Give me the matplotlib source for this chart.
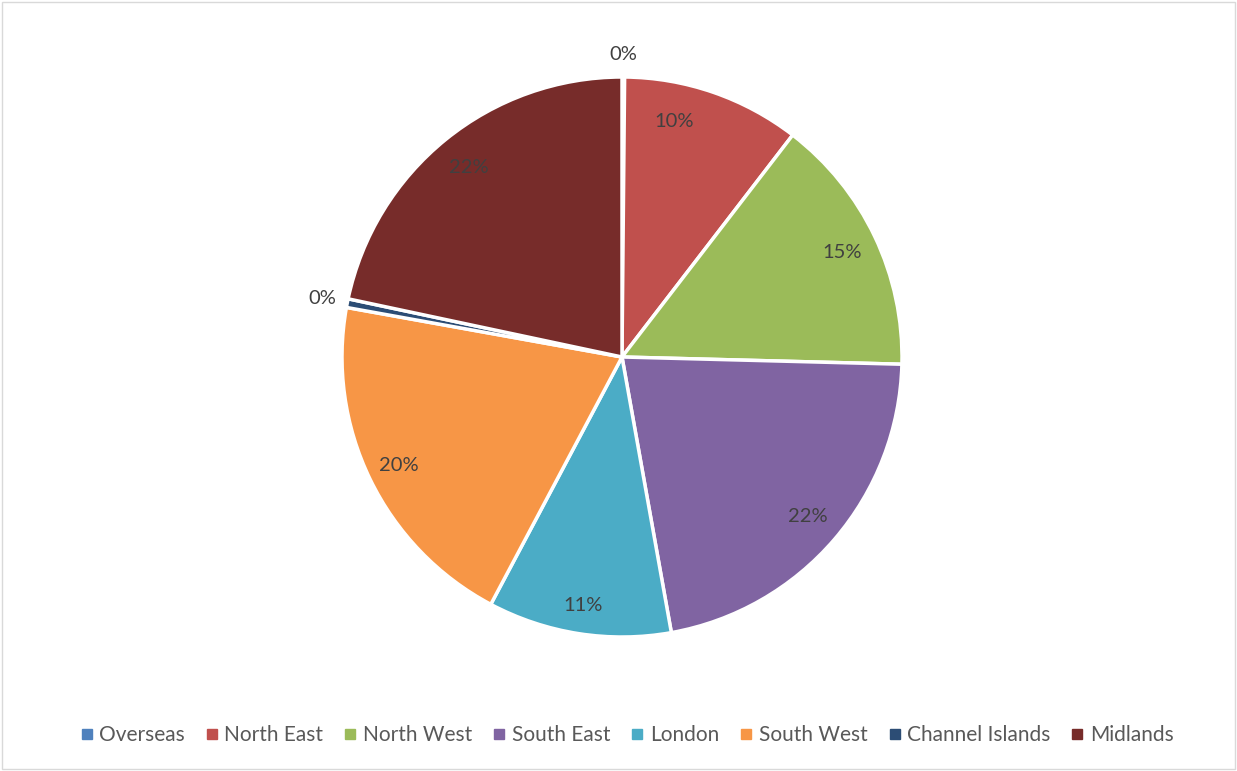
import matplotlib
matplotlib.use("Agg")
import matplotlib.pyplot as plt
from matplotlib.lines import Line2D
from matplotlib.patches import Rectangle
import numpy as np

categories = ["Overseas", "North East", "North West", "South East", "London",
              "South West", "Channel Islands", "Midlands"]
values = [0.15, 10.3, 15.0, 21.8, 10.6, 20.1, 0.5, 21.7]
pct_labels = ["0%", "10%", "15%", "22%", "11%", "20%", "0%", "22%"]
colors = ["#4F81BD", "#C0504D", "#9BBB59", "#8064A2", "#4BACC6", "#F79646",
          "#2C4D75", "#772C2A"]

plt.rcParams['font.family'] = ['Lato', 'DejaVu Sans']

W, H = 1237, 771
fig = plt.figure(figsize=(W / 100, H / 100), dpi=100)
fig.patches.append(Rectangle((0.002, 0.002), 0.996, 0.996, transform=fig.transFigure,
                             fill=False, edgecolor="#D9D9D9", linewidth=1))

cx, cy, r = 622, 357, 280
ax = fig.add_axes([(cx - r) / W, (H - cy - r) / H, 2 * r / W, 2 * r / H])
wedges, _ = ax.pie(values, colors=colors, startangle=90, counterclock=False,
                   wedgeprops=dict(edgecolor="white", linewidth=2.5))
ax.set_xlim(-1, 1)
ax.set_ylim(-1, 1)
ax.set_aspect("auto")

# label placement tweaks (best-fit style): angle shift in degrees, radial distance
shifts = [0, 6.5, 0, 0, 0, 0, 0, 0]
dists = [1.08, 0.86, 0.87, 0.875, 0.9, 0.885, 1.08, 0.87]
for w, lab, v, s, d in zip(wedges, pct_labels, values, shifts, dists):
    ang = np.deg2rad((w.theta1 + w.theta2) / 2 + s)
    x, y = d * np.cos(ang), d * np.sin(ang)
    ha = "center"
    if v < 1 and x < -0.3:
        ha = "right"
        x += 0.04
    ax.text(x, y, lab, ha=ha, va="center", fontsize=14.5, color="#404040")

handles = [Line2D([], [], marker="s", linestyle="", markersize=7,
                  markerfacecolor=c, markeredgecolor=c) for c in colors]
fig.legend(handles, categories, loc="center", bbox_to_anchor=(627 / W, 1 - 735 / H),
           ncol=8, frameon=False, fontsize=15, handlelength=0.6, handletextpad=0.3,
           columnspacing=1.0, labelcolor="#595959")

fig.savefig("out.png", dpi=100)
